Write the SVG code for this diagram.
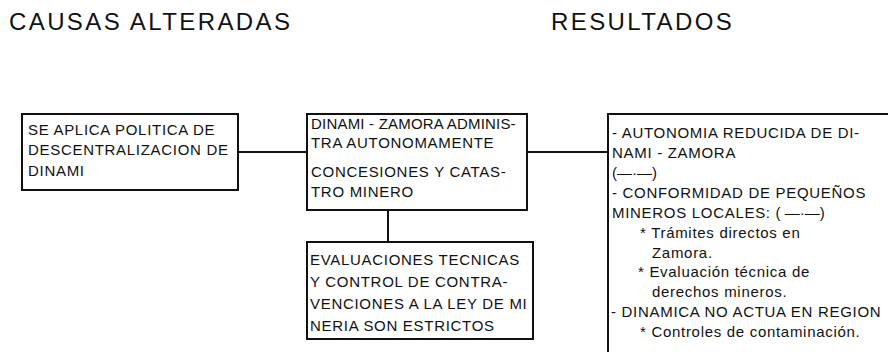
<svg xmlns="http://www.w3.org/2000/svg" width="888" height="352" viewBox="0 0 888 352">
<style>
  .bg { fill: #ffffff; }
  .box { fill: none; stroke: #111; stroke-width: 2; }
  .conn { fill: none; stroke: #111; stroke-width: 2; }
  .hdr { font-family: "Liberation Sans", Arial, sans-serif; font-size: 24px; letter-spacing: 2.4px; fill: #111; }
  .t { font-family: "Liberation Sans", Arial, sans-serif; font-size: 15px; letter-spacing: 0.7px; fill: #111; }
  .tight { letter-spacing: 0.2px; }
  .sym { letter-spacing: 0px; }
</style>
<rect class="bg" x="0" y="0" width="888" height="352"/>
<g id="headers">
  <text class="hdr" x="9" y="30">CAUSAS ALTERADAS</text>
  <text class="hdr" x="551" y="30">RESULTADOS</text>
</g>
<g id="connectors">
  <line class="conn" x1="238" y1="152" x2="307" y2="152"/>
  <line class="conn" x1="527" y1="152" x2="608" y2="152"/>
  <line class="conn" x1="388" y1="210" x2="388" y2="242"/>
</g>
<g id="node-politica">
  <rect class="box" x="22" y="114" width="216" height="76"/>
  <text class="t" x="28" y="135">SE APLICA POLITICA DE</text>
  <text class="t" x="28" y="155">DESCENTRALIZACION DE</text>
  <text class="t" x="28" y="176">DINAMI</text>
</g>
<g id="node-dinami">
  <rect class="box" x="307" y="114" width="220" height="96"/>
  <text class="t tight" x="311" y="129">DINAMI - ZAMORA ADMINIS-</text>
  <text class="t" x="311" y="148">TRA AUTONOMAMENTE</text>
  <text class="t" x="311" y="177">CONCESIONES Y CATAS-</text>
  <text class="t" x="311" y="197">TRO MINERO</text>
</g>
<g id="node-evaluaciones">
  <rect class="box" x="307" y="242" width="226" height="97"/>
  <text class="t" x="310" y="265">EVALUACIONES TECNICAS</text>
  <text class="t" x="310" y="287">Y CONTROL DE CONTRA-</text>
  <text class="t" x="310" y="309">VENCIONES A LA LEY DE MI</text>
  <text class="t" x="310" y="331">NERIA SON ESTRICTOS</text>
</g>
<g id="node-resultados">
  <path class="box" d="M888,114 H608 V352"/>
  <text class="t" x="612" y="138">- AUTONOMIA REDUCIDA DE DI-</text>
  <text class="t" x="612" y="158">NAMI - ZAMORA</text>
  <text class="t sym" x="612" y="178">(—·—)</text>
  <text class="t" x="612" y="198">- CONFORMIDAD DE PEQUEÑOS</text>
  <text class="t" x="612" y="218">MINEROS LOCALES: <tspan class="sym">( —·—)</tspan></text>
  <text class="t" x="640" y="238">* Trámites directos en</text>
  <text class="t" x="652" y="258">Zamora.</text>
  <text class="t" x="638" y="277">* Evaluación técnica de</text>
  <text class="t" x="652" y="297">derechos mineros.</text>
  <text class="t" x="611" y="317">- DINAMICA NO ACTUA EN REGION</text>
  <text class="t" x="640" y="337">* Controles de contaminación.</text>
</g>
</svg>
